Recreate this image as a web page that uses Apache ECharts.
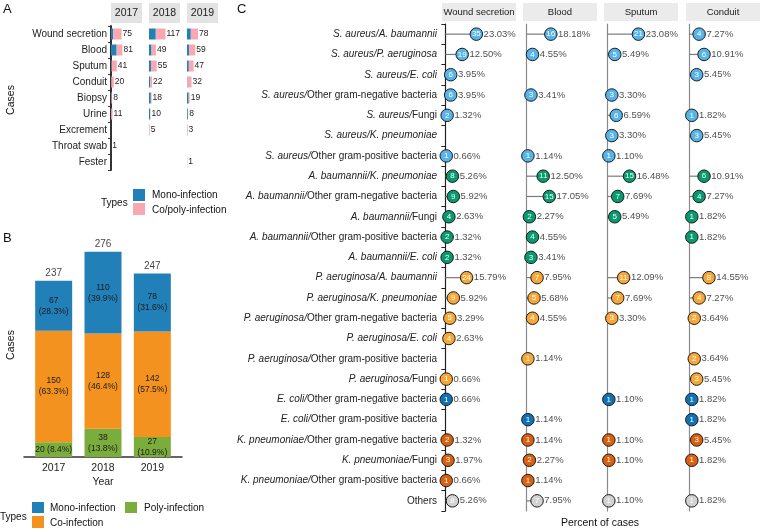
<!DOCTYPE html>
<html><head><meta charset="utf-8">
<script src="https://cdn.jsdelivr.net/npm/echarts@6/dist/echarts.min.js"></script>
<style>html,body{margin:0;padding:0;background:#fff}#c{width:760px;height:530px}</style>
</head><body><div id="c"></div>
<script>
const FONT = '"Liberation Sans", Arial, Helvetica, sans-serif';

// ---------- Panel A data ----------
const specimensA = ['Wound secretion','Blood','Sputum','Conduit','Biopsy','Urine','Excrement','Throat swab','Fester'];
const yearsA = ['2017','2018','2019'];
const monoA2017 = [15,40,5,2,3,1,null,1,null];
const coA2017   = [60,41,36,18,5,10,null,0,null];
const monoA2018 = [48,18,14,8,13,8,1,null,null];
const coA2018   = [69,31,41,14,5,2,4,null,null];
const monoA2019 = [27,14,13,3,12,6,2,null,1];
const coA2019   = [51,45,34,29,7,2,1,null,0];

// ---------- Panel B data ----------
const yearsB = ['2017','2018','2019'];
const monoB = [67,110,78];
const coB = [150,128,142];
const polyB = [20,38,27];
const monoPctB = ['28.3%','39.9%','31.6%'];
const coPctB = ['63.3%','46.4%','57.5%'];
const polyPctB = ['8.4%','13.8%','10.9%'];
const totalB = [237,276,247];

// ---------- Panel C data ----------
const specimensC = ['Wound secretion','Blood','Sputum','Conduit'];
const combosC = [
 'S. aureus/A. baumannii','S. aureus/P. aeruginosa','S. aureus/E. coli','S. aureus/Other gram-negative bacteria',
 'S. aureus/Fungi','S. aureus/K. pneumoniae','S. aureus/Other gram-positive bacteria',
 'A. baumannii/K. pneumoniae','A. baumannii/Other gram-negative bacteria','A. baumannii/Fungi',
 'A. baumannii/Other gram-positive bacteria','A. baumannii/E. coli',
 'P. aeruginosa/A. baumannii','P. aeruginosa/K. pneumoniae','P. aeruginosa/Other gram-negative bacteria',
 'P. aeruginosa/E. coli','P. aeruginosa/Other gram-positive bacteria','P. aeruginosa/Fungi',
 'E. coli/Other gram-negative bacteria','E. coli/Other gram-positive bacteria',
 'K. pneumoniae/Other gram-negative bacteria','K. pneumoniae/Fungi','K. pneumoniae/Other gram-positive bacteria',
 'Others'];
const woundCount = [35,19,6,6,2,null,1, 8,9,4,2,2, 24,9,5,4,null,1, 1,null, 2,3,1, 8];
const woundPct   = [23.03,12.50,3.95,3.95,1.32,null,0.66, 5.26,5.92,2.63,1.32,1.32, 15.79,5.92,3.29,2.63,null,0.66, 0.66,null, 1.32,1.97,0.66, 5.26];
const bloodCount = [16,4,null,3,null,null,1, 11,15,2,4,3, 7,5,4,null,1,null, null,1, 1,2,1, 7];
const bloodPct   = [18.18,4.55,null,3.41,null,null,1.14, 12.50,17.05,2.27,4.55,3.41, 7.95,5.68,4.55,null,1.14,null, null,1.14, 1.14,2.27,1.14, 7.95];
const sputumCount = [21,5,null,3,6,3,1, 15,7,5,null,null, 11,7,3,null,null,null, 1,null, 1,1,null, 1];
const sputumPct   = [23.08,5.49,null,3.30,6.59,3.30,1.10, 16.48,7.69,5.49,null,null, 12.09,7.69,3.30,null,null,null, 1.10,null, 1.10,1.10,null, 1.10];
const conduitCount = [4,6,3,null,1,3,null, 6,4,1,1,null, 8,4,2,null,2,3, 1,1, 3,1,null, 1];
const conduitPct   = [7.27,10.91,5.45,null,1.82,5.45,null, 10.91,7.27,1.82,1.82,null, 14.55,7.27,3.64,null,3.64,5.45, 1.82,1.82, 5.45,1.82,null, 1.82];

// ---------- styles ----------
const BLUE = '#2280B8', PINK = '#F8A8B0', ORANGE = '#F4921F', GREEN = '#7BAD3D';
const groupColor = {
  'S. aureus':'#56B4E9','A. baumannii':'#079A6E','P. aeruginosa':'#F7A736',
  'E. coli':'#0F72B3','K. pneumoniae':'#D8600E','Others':'#D2D2D2'
};
const speciesNames = ['S. aureus','A. baumannii','P. aeruginosa','E. coli','K. pneumoniae'];
function richLabel(s){
  const parts = s.split('/');
  if (parts.length === 1) return '{n|' + s + '}';
  const b = speciesNames.includes(parts[1]) ? '{i|' + parts[1] + '}' : '{n|' + parts[1] + '}';
  return '{i|' + parts[0] + '/}' + b;
}
function colorOf(name){ return groupColor[name.split('/')[0]] || '#D2D2D2'; }

const grid = [];
const xAxis = [];
const yAxis = [];
const series = [];

// ---------- Panel A ----------
const monoA = [monoA2017, monoA2018, monoA2019];
const coA = [coA2017, coA2018, coA2019];
const leftA = [111,149,187];
for (let k = 0; k < 3; k++) {
  grid.push({left:leftA[k], top:26, width:31, height:144, outerBoundsMode:'none', containLabel:false});
  xAxis.push({type:'value', gridIndex:k, min:0, max:220, show:false});
  yAxis.push({
    type:'category', gridIndex:k, data:specimensA, inverse:true,
    show: k === 0,
    axisLine:{show:k===0, lineStyle:{color:'#333', width:2}},
    axisTick:{show:k===0, length:3, lineStyle:{color:'#333'}},
    axisLabel:{show:k===0, fontSize:10, fontFamily:FONT, color:'#222', margin:4}
  });
  series.push({
    type:'bar', xAxisIndex:k, yAxisIndex:k, stack:'A'+k, barWidth:11,
    data: monoA[k].map(v => v == null ? '-' : v), itemStyle:{color:BLUE}, silent:true
  });
  series.push({
    type:'bar', xAxisIndex:k, yAxisIndex:k, stack:'A'+k, barWidth:11,
    data: coA[k].map(v => v == null ? '-' : v), itemStyle:{color:PINK}, silent:true,
    label:{show:true, position:'right', distance:1, fontSize:8.5, fontFamily:FONT, color:'#222',
      formatter: p => String(monoA[k][p.dataIndex] + coA[k][p.dataIndex])}
  });
}

// ---------- Panel B (grid 3) ----------
grid.push({left:29, top:234, width:148, height:223, outerBoundsMode:'none', containLabel:false});
xAxis.push({
  type:'category', gridIndex:3, data:yearsB, boundaryGap:true,
  axisLine:{show:false}, axisTick:{show:false}, splitLine:{show:false},
  axisLabel:{show:true, fontSize:10.5, fontFamily:FONT, color:'#222', margin:6},
  name:'Year', nameLocation:'middle', nameGap:20,
  nameTextStyle:{fontSize:10.5, fontFamily:FONT, color:'#222'}
});
yAxis.push({type:'value', gridIndex:3, min:0, max:300, show:false});
const segB = (vals, pcts, color, name) => ({
  type:'bar', name, xAxisIndex:3, yAxisIndex:3, stack:'B', barWidth:37,
  data: vals.slice(), itemStyle:{color}, silent:true,
  label:{show:true, position:'inside', fontSize:8.5, fontFamily:FONT, color:'#1a1a1a', lineHeight:11,
    formatter: p => (vals[p.dataIndex] < 24) ? vals[p.dataIndex] + ' (' + pcts[p.dataIndex] + ')'
                                            : vals[p.dataIndex] + '\n(' + pcts[p.dataIndex] + ')'}
});
series.push(segB(polyB, polyPctB, GREEN, 'Poly-infection'));
series.push(segB(coB, coPctB, ORANGE, 'Co-infection'));
series.push(segB(monoB, monoPctB, BLUE, 'Mono-infection'));
series.push({
  type:'scatter', xAxisIndex:3, yAxisIndex:3, symbolSize:1, itemStyle:{color:'rgba(0,0,0,0)'}, silent:true,
  data: totalB.map((v,i) => [i, v]),
  label:{show:true, position:'top', distance:2, fontSize:10, fontFamily:FONT, color:'#111',
    formatter: p => String(totalB[p.dataIndex])}
});

// ---------- Panel C (grids 4..7) ----------
const leftC = [442,523,604,686];
const countsC = [woundCount, bloodCount, sputumCount, conduitCount];
const pctsC = [woundPct, bloodPct, sputumPct, conduitPct];
for (let p = 0; p < 4; p++) {
  const gi = 4 + p;
  grid.push({left:leftC[p], top:24, width:74, height:487, outerBoundsMode:'none', containLabel:false});
  xAxis.push({type:'value', gridIndex:gi, min:-2.5, max:52.5, show:false});
  yAxis.push({
    type:'category', gridIndex:gi, data:combosC, inverse:true,
    axisLine:{show:true, lineStyle:{color: p===0 ? '#222' : '#8a8a8a', width:1.2}},
    axisTick:{show:p===0, length:4, lineStyle:{color:'#222'}},
    axisLabel:{show:p===0, margin:5, formatter: richLabel,
      rich:{
        i:{fontStyle:'italic', fontSize:10, fontFamily:FONT, color:'#222'},
        n:{fontSize:10, fontFamily:FONT, color:'#222'}
      }}
  });
  const pc = pctsC[p], cc = countsC[p];
  series.push({
    type:'bar', xAxisIndex:gi, yAxisIndex:gi, barWidth:1.2, silent:true,
    data: pc.map(v => v == null ? '-' : v), itemStyle:{color:'#7a7a7a'}, z:2
  });
  const pts = [];
  pc.forEach((v,i) => { if (v != null) pts.push({value:[v,i], cnt:cc[i], itemStyle:{color:colorOf(combosC[i])}}); });
  series.push({
    type:'scatter', xAxisIndex:gi, yAxisIndex:gi, symbol:'circle', symbolSize:12.5, silent:true, z:3,
    itemStyle:{borderColor:'#1a1a1a', borderWidth:1, opacity:1},
    data: pts,
    label:{show:true, position:'inside', fontSize:8, fontFamily:FONT, color:'#fff',
      formatter: q => String(q.data.cnt)}
  });
  series.push({
    type:'scatter', xAxisIndex:gi, yAxisIndex:gi, symbol:'circle', symbolSize:12.5, silent:true, z:4,
    itemStyle:{color:'rgba(0,0,0,0)'},
    data: pts.map(d => ({value:d.value})),
    label:{show:true, position:'right', distance:1, fontSize:9.5, fontFamily:FONT, color:'#222',
      formatter: q => q.value[0].toFixed(2) + '%'}
  });
}

// ---------- Panel B baseline axis (grid 8), spanning the expanded range ----------
grid.push({left:24, top:234, width:158, height:223, outerBoundsMode:'none', containLabel:false});
xAxis.push({type:'value', gridIndex:8, min:0, max:1, position:'bottom',
  axisLine:{show:true, onZero:false, lineStyle:{color:'#333', width:1.5}},
  axisTick:{show:false}, axisLabel:{show:false}, splitLine:{show:false}});
yAxis.push({type:'value', gridIndex:8, min:0, max:1, show:false});

// ---------- graphics: panel letters, strips, titles, legends ----------
const txt = (x, y, text, size, opts) => Object.assign({
  type:'text', x, y, silent:true,
  style:Object.assign({text, fontSize:size, fontFamily:FONT, fill:'#111',
    textAlign:'left', textVerticalAlign:'middle', align:'left', verticalAlign:'middle'}, (opts||{}).style || {})
}, (opts||{}).el || {});
const rect = (x, y, w, h, fill) => ({type:'rect', silent:true, shape:{x, y, width:w, height:h}, style:{fill}});
const graphic = [];
graphic.push(txt(3, 9, 'A', 13));
graphic.push(txt(3, 238, 'B', 13));
graphic.push(txt(237, 9, 'C', 13));
leftA.forEach((x, k) => {
  graphic.push(rect(x, 3, 31, 20, '#E3E3E3'));
  graphic.push(txt(x + 15.5, 13.5, yearsA[k], 10.5, {style:{textAlign:'center', align:'center', fill:'#1a1a1a'}}));
});
leftC.forEach((x, k) => {
  graphic.push(rect(x, 3, 74, 18, '#EBEBEB'));
  graphic.push(txt(x + 37, 12.5, specimensC[k], 9.5, {style:{textAlign:'center', align:'center', fill:'#1a1a1a'}}));
});
graphic.push(txt(11, 100, 'Cases', 10.5, {style:{textAlign:'center', align:'center'}, el:{rotation:Math.PI/2}}));
graphic.push(txt(11, 345, 'Cases', 10.5, {style:{textAlign:'center', align:'center'}, el:{rotation:Math.PI/2}}));
graphic.push(txt(600, 523, 'Percent of cases', 10.5, {style:{textAlign:'center', align:'center'}}));
graphic.push(txt(101, 203, 'Types', 10));
graphic.push(rect(133, 189, 12, 12, BLUE));
graphic.push(rect(133, 203, 12, 12, PINK));
graphic.push(txt(152, 195, 'Mono-infection', 10));
graphic.push(txt(152, 210, 'Co/poly-infection', 10));
graphic.push(txt(0, 517, 'Types', 10));
graphic.push(rect(32, 502, 12, 11, BLUE));
graphic.push(rect(32, 516, 12, 12, ORANGE));
graphic.push(rect(125, 502, 12, 11, GREEN));
graphic.push(txt(50, 508, 'Mono-infection', 10));
graphic.push(txt(50, 523, 'Co-infection', 10));
graphic.push(txt(144, 508, 'Poly-infection', 10));

const chart = echarts.init(document.getElementById('c'), null, {renderer:'canvas'});
chart.setOption({
  animation:false,
  backgroundColor:'#ffffff',
  textStyle:{fontFamily:FONT},
  grid, xAxis, yAxis, series, graphic
});
</script>
</body></html>
